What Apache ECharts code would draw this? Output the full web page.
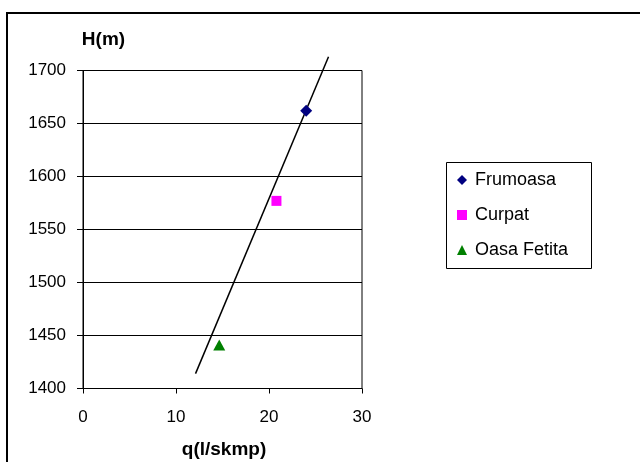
<!DOCTYPE html>
<html><head><meta charset="utf-8">
<script src="https://cdn.jsdelivr.net/npm/echarts@6/dist/echarts.min.js"></script>
<style>html,body{margin:0;padding:0;background:#fff}#c{width:640px;height:462px}</style>
</head><body><div id="c"></div>
<script>
const seriesNames = ['Frumoasa', 'Curpat', 'Oasa Fetita'];
const frumoasa = [[24.0, 1662]];
const curpat = [[20.8, 1577]];
const oasaFetita = [[14.65, 1441]];
const trendLine = [[12.1, 1414], [26.4, 1713]];
const xTicks = [0, 10, 20, 30];
const yTicks = [1400, 1450, 1500, 1550, 1600, 1650, 1700];

const FONT = '"Liberation Sans", Arial, sans-serif';
const chart = echarts.init(document.getElementById('c'), null, {renderer: 'canvas'});
chart.setOption({
  animation: false,
  backgroundColor: '#fff',
  textStyle: {fontFamily: FONT},
  grid: {left: 83, right: 278, top: 70.5, bottom: 73.5, show: true, borderColor: '#000', borderWidth: 1},
  xAxis: {
    type: 'value', min: xTicks[0], max: xTicks[xTicks.length - 1], interval: 10,
    axisLine: {show: true, lineStyle: {color: '#000', width: 1}},
    axisTick: {show: true, length: 5, inside: false, lineStyle: {color: '#000'}},
    axisLabel: {margin: 20, fontSize: 17, color: '#000', fontFamily: FONT, formatter: v => String(v)},
    splitLine: {show: false}
  },
  yAxis: {
    type: 'value', min: yTicks[0], max: yTicks[yTicks.length - 1], interval: 50,
    axisLine: {show: true, lineStyle: {color: '#000', width: 1}},
    axisTick: {show: true, length: 6, lineStyle: {color: '#000'}},
    axisLabel: {margin: 17, fontSize: 17, color: '#000', fontFamily: FONT, formatter: v => String(v)},
    splitLine: {show: true, lineStyle: {color: '#000', width: 1}}
  },
  legend: {
    orient: 'vertical', left: 446, top: 162, padding: [8, 10, 8, 11],
    itemWidth: 10, itemHeight: 10, itemGap: 15,
    textStyle: {fontSize: 18, color: '#000', lineHeight: 20, fontFamily: FONT, padding: [0, 0, 0, 3]},
    data: [
      {name: seriesNames[0], icon: 'diamond'},
      {name: seriesNames[1], icon: 'rect'},
      {name: seriesNames[2], icon: 'triangle'}
    ]
  },
  graphic: [
    {type: 'rect', shape: {x: 7, y: 13, width: 700, height: 500}, style: {fill: 'none', stroke: '#000', lineWidth: 2}, z: 10},
    {type: 'rect', shape: {x: 446.5, y: 162.5, width: 145, height: 106}, style: {fill: 'none', stroke: '#000', lineWidth: 1}, z: 10},
    {type: 'text', x: 103.5, y: 40, style: {text: 'H(m)', font: 'bold 19px ' + FONT, fill: '#000', textAlign: 'center', textVerticalAlign: 'middle'}},
    {type: 'text', x: 224, y: 450, style: {text: 'q(l/skmp)', font: 'bold 19px ' + FONT, fill: '#000', textAlign: 'center', textVerticalAlign: 'middle'}}
  ],
  series: [
    {name: 'trend', type: 'line', data: trendLine, clip: false, showSymbol: false, symbol: 'none',
     lineStyle: {color: '#000', width: 1.5}, z: 3, silent: true},
    {name: seriesNames[0], type: 'scatter', data: frumoasa, symbol: 'diamond', symbolSize: 12,
     itemStyle: {color: '#000080', opacity: 1}, z: 4},
    {name: seriesNames[1], type: 'scatter', data: curpat, symbol: 'rect', symbolSize: 10,
     itemStyle: {color: '#FF00FF', opacity: 1}, z: 4},
    {name: seriesNames[2], type: 'scatter', data: oasaFetita, symbol: 'triangle', symbolSize: [12, 11],
     itemStyle: {color: '#008000', opacity: 1}, z: 4}
  ]
});
</script></body></html>
